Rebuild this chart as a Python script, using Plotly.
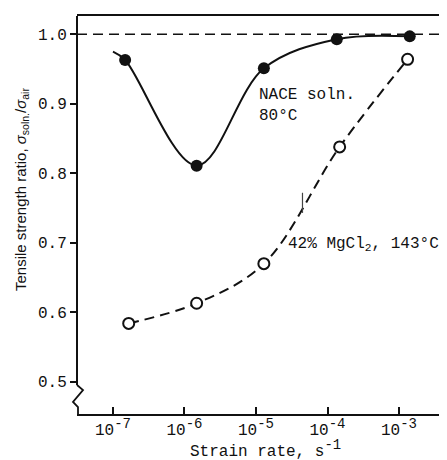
import plotly.graph_objects as go

# ---- data ----
nace_rate = [10**-6.83, 10**-5.83, 10**-4.89, 10**-3.87, 10**-2.85]
nace_ratio = [0.963, 0.811, 0.951, 0.993, 0.997]
# curve lead-in (drawn fit line starts a bit before the first point)
nace_curve_rate = [10**-7.0] + nace_rate
nace_curve_ratio = [0.975] + nace_ratio

mgcl_rate = [10**-6.78, 10**-5.83, 10**-4.89, 10**-3.83, 10**-2.88]
mgcl_ratio = [0.584, 0.613, 0.670, 0.838, 0.964]

x_tickvals = [1e-7, 1e-6, 1e-5, 1e-4, 1e-3]
x_exponents = ["-7", "-6", "-5", "-4", "-3"]
y_tickvals = [0.5, 0.6, 0.7, 0.8, 0.9, 1.0]
y_ticktext = ["0.5", "0.6", "0.7", "0.8", "0.9", "1.0"]

MONO = "Liberation Mono"
SANS = "Liberation Sans"
INK = "#111111"

x_ticktext = ["10<sup><span style='font-size:14px'>%s</span></sup>" % e for e in x_exponents]

OFF = 8  # page body margin
W, H = 447 - OFF, 460 - OFF
# plot area in page pixels: left 77, top 16, bottom 414, right edge beyond 447
ML, MR, MT, MB = 77 - OFF, 0, 16 - OFF, H - (414 - OFF)
PW = W - ML - MR
PH = H - MT - MB
BOT = 414  # page y of x axis


def py(page_y):
    return (BOT - page_y) / PH


def px(page_x):
    return (page_x - 77) / PW


fig = go.Figure()

fig.add_trace(go.Scatter(
    x=nace_curve_rate, y=nace_curve_ratio, mode="lines",
    line=dict(color=INK, width=2, shape="spline", smoothing=1.0),
    showlegend=False, hoverinfo="skip"))
fig.add_trace(go.Scatter(
    x=nace_rate, y=nace_ratio, mode="markers",
    marker=dict(color=INK, size=12, line=dict(width=0)),
    showlegend=False))

fig.add_trace(go.Scatter(
    x=mgcl_rate, y=mgcl_ratio, mode="lines",
    line=dict(color=INK, width=2, dash="10px,6px", shape="spline", smoothing=1.0),
    showlegend=False, hoverinfo="skip"))
fig.add_trace(go.Scatter(
    x=mgcl_rate, y=mgcl_ratio, mode="markers",
    marker=dict(color="white", size=11, line=dict(color=INK, width=2)),
    showlegend=False))

shapes = [
    # reference line at ratio 1.0
    dict(type="line", xref="paper", yref="y", x0=0, x1=1, y0=1.0, y1=1.0,
         line=dict(color=INK, width=1.6, dash="10px,6px"), layer="below"),
    # y axis line (with break)
    dict(type="line", xref="paper", yref="paper", x0=0, x1=0,
         y0=py(385), y1=1, line=dict(color=INK, width=2)),
    dict(type="path", xref="paper", yref="paper",
         path="M {a},{b} L {c},{d} L {e},{f} L {g},{h} L {g},{i}".format(
             a=0, b=py(385),
             c=6 / PW, d=py(390),
             e=-4 / PW, f=py(402),
             g=1 / PW, h=py(407), i=0),
         line=dict(color=INK, width=1.8)),
    # small pencil mark
    dict(type="line", xref="x", yref="y", x0=10**-4.35, x1=10**-4.35, y0=0.743, y1=0.772,
         line=dict(color="#444444", width=1.2)),
]

annotations = [
    dict(text="NACE soln.", x=-4.99, y=0.913, xref="x", yref="y", xanchor="left", yanchor="middle",
         showarrow=False, font=dict(family=MONO, size=16, color=INK)),
    dict(text="80°C", x=-4.99, y=0.882, xref="x", yref="y", xanchor="left", yanchor="middle",
         showarrow=False, font=dict(family=MONO, size=16, color=INK)),
    dict(text="42% MgCl<sub>2</sub>, 143°C", x=-4.58, y=0.697, xref="x", yref="y",
         xanchor="left", yanchor="middle",
         showarrow=False, font=dict(family=MONO, size=16, color=INK)),
    dict(text="Strain rate, s<sup><span style='font-size:14px'>-1</span></sup>", x=px(265), y=py(449),
         xref="paper", yref="paper", xanchor="center", yanchor="middle",
         showarrow=False, font=dict(family=MONO, size=16, color=INK)),
    dict(text="Tensile strength ratio, <i>σ</i><sub>soln.</sub>/<i>σ</i><sub>air</sub>",
         x=px(21), y=py(190), xref="paper", yref="paper",
         xanchor="center", yanchor="middle", textangle=-90,
         showarrow=False, font=dict(family=SANS, size=15, color=INK)),
]

fig.update_layout(
    width=W, height=H,
    margin=dict(l=ML, r=MR, t=MT, b=MB, pad=0),
    paper_bgcolor="white", plot_bgcolor="white",
    shapes=shapes, annotations=annotations,
    xaxis=dict(type="log", range=[-7.503, -2.329], tickvals=x_tickvals, ticktext=x_ticktext,
               ticks="inside", ticklen=7, tickwidth=1.5, tickcolor=INK,
               showline=True, linecolor=INK, linewidth=2, mirror=True,
               showgrid=False, zeroline=False,
               tickfont=dict(family=MONO, size=16, color=INK)),
    yaxis=dict(range=[0.4537, 1.0263], tickvals=y_tickvals, ticktext=y_ticktext,
               ticks="outside", ticklen=6, tickwidth=1.5, tickcolor=INK,
               showline=False, showgrid=False, zeroline=False,
               tickfont=dict(family=MONO, size=16, color=INK)),
)

fig.write_html("out.html")
